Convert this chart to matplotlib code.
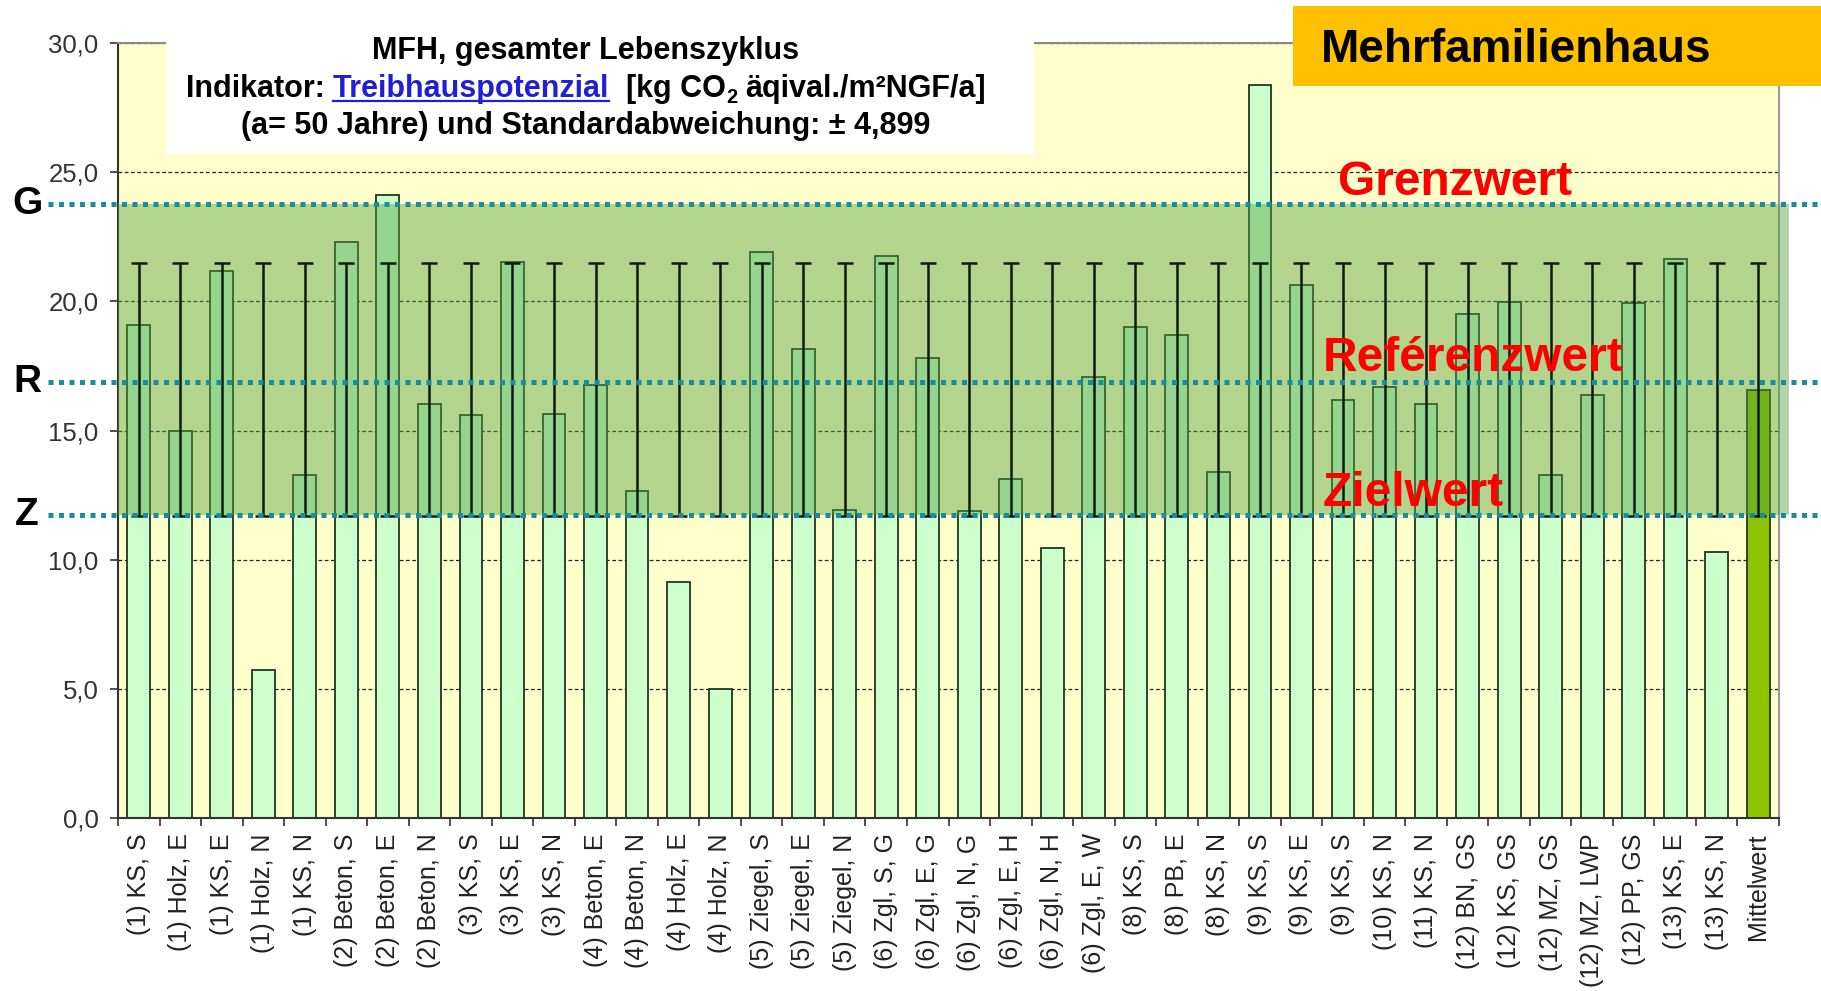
import matplotlib
matplotlib.use('Agg')
import matplotlib.pyplot as plt
from matplotlib import font_manager as fm
from matplotlib.patches import Rectangle
from matplotlib.lines import Line2D
import matplotlib.transforms as mtransforms

# ---------------- data ----------------
categories = [
    "(1) KS, S", "(1) Holz, E", "(1) KS, E", "(1) Holz, N", "(1) KS, N",
    "(2) Beton, S", "(2) Beton, E", "(2) Beton, N", "(3) KS, S", "(3) KS, E",
    "(3) KS, N", "(4) Beton, E", "(4) Beton, N", "(4) Holz, E", "(4) Holz, N",
    "(5) Ziegel, S", "(5) Ziegel, E", "(5) Ziegel, N", "(6) Zgl, S, G", "(6) Zgl, E, G",
    "(6) Zgl, N, G", "(6) Zgl, E, H", "(6) Zgl, N, H", "(6) Zgl, E, W", "(8) KS, S",
    "(8) PB, E", "(8) KS, N", "(9) KS, S", "(9) KS, E", "(9) KS, S",
    "(10) KS, N", "(11) KS, N", "(12) BN, GS", "(12) KS, GS", "(12) MZ, GS",
    "(12) MZ, LWP", "(12) PP, GS", "(13) KS, E", "(13) KS, N", "Mittelwert",
]
values = [
    19.10, 14.99, 21.19, 5.72, 13.28,
    22.31, 24.11, 16.01, 15.60, 21.51,
    15.65, 16.76, 12.64, 9.12, 5.01,
    21.90, 18.14, 11.91, 21.76, 17.81,
    11.88, 13.12, 10.46, 17.07, 19.02,
    18.71, 13.40, 28.39, 20.62, 16.20,
    16.68, 16.04, 19.52, 19.98, 13.26,
    16.38, 19.95, 21.65, 10.31, 16.58,
]
mean_value = 16.58
std_dev = 4.899
grenzwert = 23.75
referenzwert = 16.88
zielwert = 11.72
y_ticks = [0, 5, 10, 15, 20, 25, 30]
limit_letters = ["G", "R", "Z"]
limit_names = ["Grenzwert", "Reférenzwert", "Zielwert"]

# ---------------- fonts ----------------
names = {f.name for f in fm.fontManager.ttflist}
has_narrow = 'Liberation Sans Narrow' in names
BASE = ['Liberation Sans', 'DejaVu Sans']
NARROW = ['Liberation Sans Narrow', 'Liberation Sans', 'DejaVu Sans'] if has_narrow else BASE
plt.rcParams['font.family'] = BASE

W, H = 1821, 991
fig = plt.figure(figsize=(W / 100, H / 100), dpi=100)
fig.patch.set_facecolor('white')
ax = fig.add_axes([118 / W, 1 - 818 / H, (1779 - 118) / W, (818 - 43) / H])
ax.set_facecolor('#FFFFCC')

x = list(range(len(categories)))
bar_colors = ['#CCFFCC'] * (len(categories) - 1) + ['#8CC400']
ax.bar(x, values, width=0.55, color=bar_colors, edgecolor='#243324',
       linewidth=1.3, zorder=2)

# target band (semi-transparent, above bars)
band = Rectangle((0, zielwert), 1.006, grenzwert - zielwert,
                 transform=mtransforms.blended_transform_factory(ax.transAxes, ax.transData),
                 facecolor=(84 / 255, 160 / 255, 62 / 255), alpha=0.45,
                 edgecolor='none', zorder=3, clip_on=False)
ax.add_patch(band)

# error bars (mean +- std for every column)
ax.errorbar(x, [mean_value] * len(x), yerr=std_dev, fmt='none', ecolor='#0d1a0d',
            elinewidth=1.8, capsize=5.5, capthick=1.8, zorder=5)

ax.set_xlim(-0.5, len(categories) - 0.5)
ax.set_ylim(0, 30)
ax.set_yticks(y_ticks)
ax.set_yticklabels([f"{v:.1f}".replace('.', ',') for v in y_ticks])
ax.set_xticks(x)
ax.set_xticklabels(categories, rotation=90)
ax.set_xticks([i - 0.5 for i in range(len(categories) + 1)], minor=True)
ax.tick_params(axis='x', which='major', length=0, pad=11, labelsize=18, colors='#222222')
ax.tick_params(axis='x', which='minor', length=6, width=1.2, color='#333333', direction='out')
ax.tick_params(axis='y', which='major', length=6, width=1.2, pad=8, labelsize=18.5,
               color='#333333', labelcolor='#333333')

ax.yaxis.grid(True, linestyle=(0, (3, 2)), color='#222222', linewidth=0.9)
ax.set_axisbelow(True)
ax.spines['left'].set_color('#333333')
ax.spines['bottom'].set_color('#333333')
ax.spines['top'].set_color('#8a8a8a')
ax.spines['right'].set_color('#9a9a9a')
for s in ax.spines.values():
    s.set_linewidth(1.5)

# dotted limit lines + letters + red labels
blend = mtransforms.blended_transform_factory(fig.transFigure, ax.transData)
limits = [grenzwert, referenzwert, zielwert]
label_pos = [(1338, 195), (1323, 371), (1323, 506)]
for val, letter, name, (lx, ly) in zip(limits, limit_letters, limit_names, label_pos):
    fig.add_artist(Line2D([48 / W, 1.0], [val, val], transform=blend, color='#1a8ca0',
                          linewidth=3.6, linestyle=(0, (1, 1.1)), dash_capstyle='butt',
                          zorder=6))
    fig.text(27 / W, val, letter, transform=blend, ha='center', va='center',
             fontsize=28, fontweight='bold', color='black', zorder=8)
    fig.text(lx / W, 1 - ly / H, name, ha='left', va='baseline', fontsize=34.5,
             fontweight='bold', color='#FF0000', zorder=10)

# title box
fig.add_artist(Rectangle((166 / W, 1 - 154 / H), (1034 - 166) / W, 154 / H,
                         transform=fig.transFigure, facecolor='white',
                         edgecolor='none', zorder=7))
tsize = 27 if has_narrow else 22
cx = 586
fig.text(cx / W, 1 - 51 / H, "MFH, gesamter Lebenszyklus", ha='center', va='center',
         fontsize=tsize, fontweight='bold', family=NARROW, zorder=8)
fig.text(cx / W, 1 - 126 / H, "(a= 50 Jahre) und Standardabweichung: ± 4,899",
         ha='center', va='center', fontsize=tsize, fontweight='bold', family=NARROW, zorder=8)

# second title line built from pieces, placed in figure pixels
em = tsize * 100 / 72
space = 0.23 * em if has_narrow else 0.278 * em
blue = '#1f1fd6'
pix = mtransforms.IdentityTransform()
base_y = H - 97  # baseline, pixels from bottom
pieces = [  # text, colour, size factor, gap after (in spaces), baseline shift (px)
    ("Indikator:", 'black', 1.0, 1, 0),
    ("Treibhauspotenzial", blue, 1.0, 2, 0),
    ("[kg CO", 'black', 1.0, 0, 0),
    ("2", 'black', 0.65, 1, -6),
    ("äqival./m²NGF/a]", 'black', 1.0, 0, 0),
]
fig.canvas.draw()
r = fig.canvas.get_renderer()
objs = []
total = 0.0
for s, c, f, gap, dy in pieces:
    t = fig.text(0, base_y + dy, s, transform=pix, ha='left', va='baseline',
                 fontsize=tsize * f, fontweight='bold', family=NARROW, color=c, zorder=8)
    w = t.get_window_extent(r).width
    objs.append((t, w, gap))
    total += w + gap * space
xpos = cx - total / 2
for t, w, gap in objs:
    t.set_x(xpos)
    xpos += w + gap * space
t2, w2, _ = objs[1]
ux0 = t2.get_position()[0]
uy = base_y - 4
fig.add_artist(Line2D([ux0, ux0 + w2], [uy, uy], transform=pix,
                      color=blue, linewidth=1.6, zorder=9))

# Mehrfamilienhaus box
fig.add_artist(Rectangle((1293 / W, 1 - 86 / H), (W - 1293) / W, 80 / H,
                         transform=fig.transFigure, facecolor='#FFC000',
                         edgecolor='none', zorder=7))
fig.text(1516 / W, 1 - 50 / H, "Mehrfamilienhaus", ha='center', va='center',
         fontsize=41 if has_narrow else 33, fontweight='bold', family=NARROW,
         color='black', zorder=8)

fig.savefig('out.png', dpi=100, facecolor='white')
